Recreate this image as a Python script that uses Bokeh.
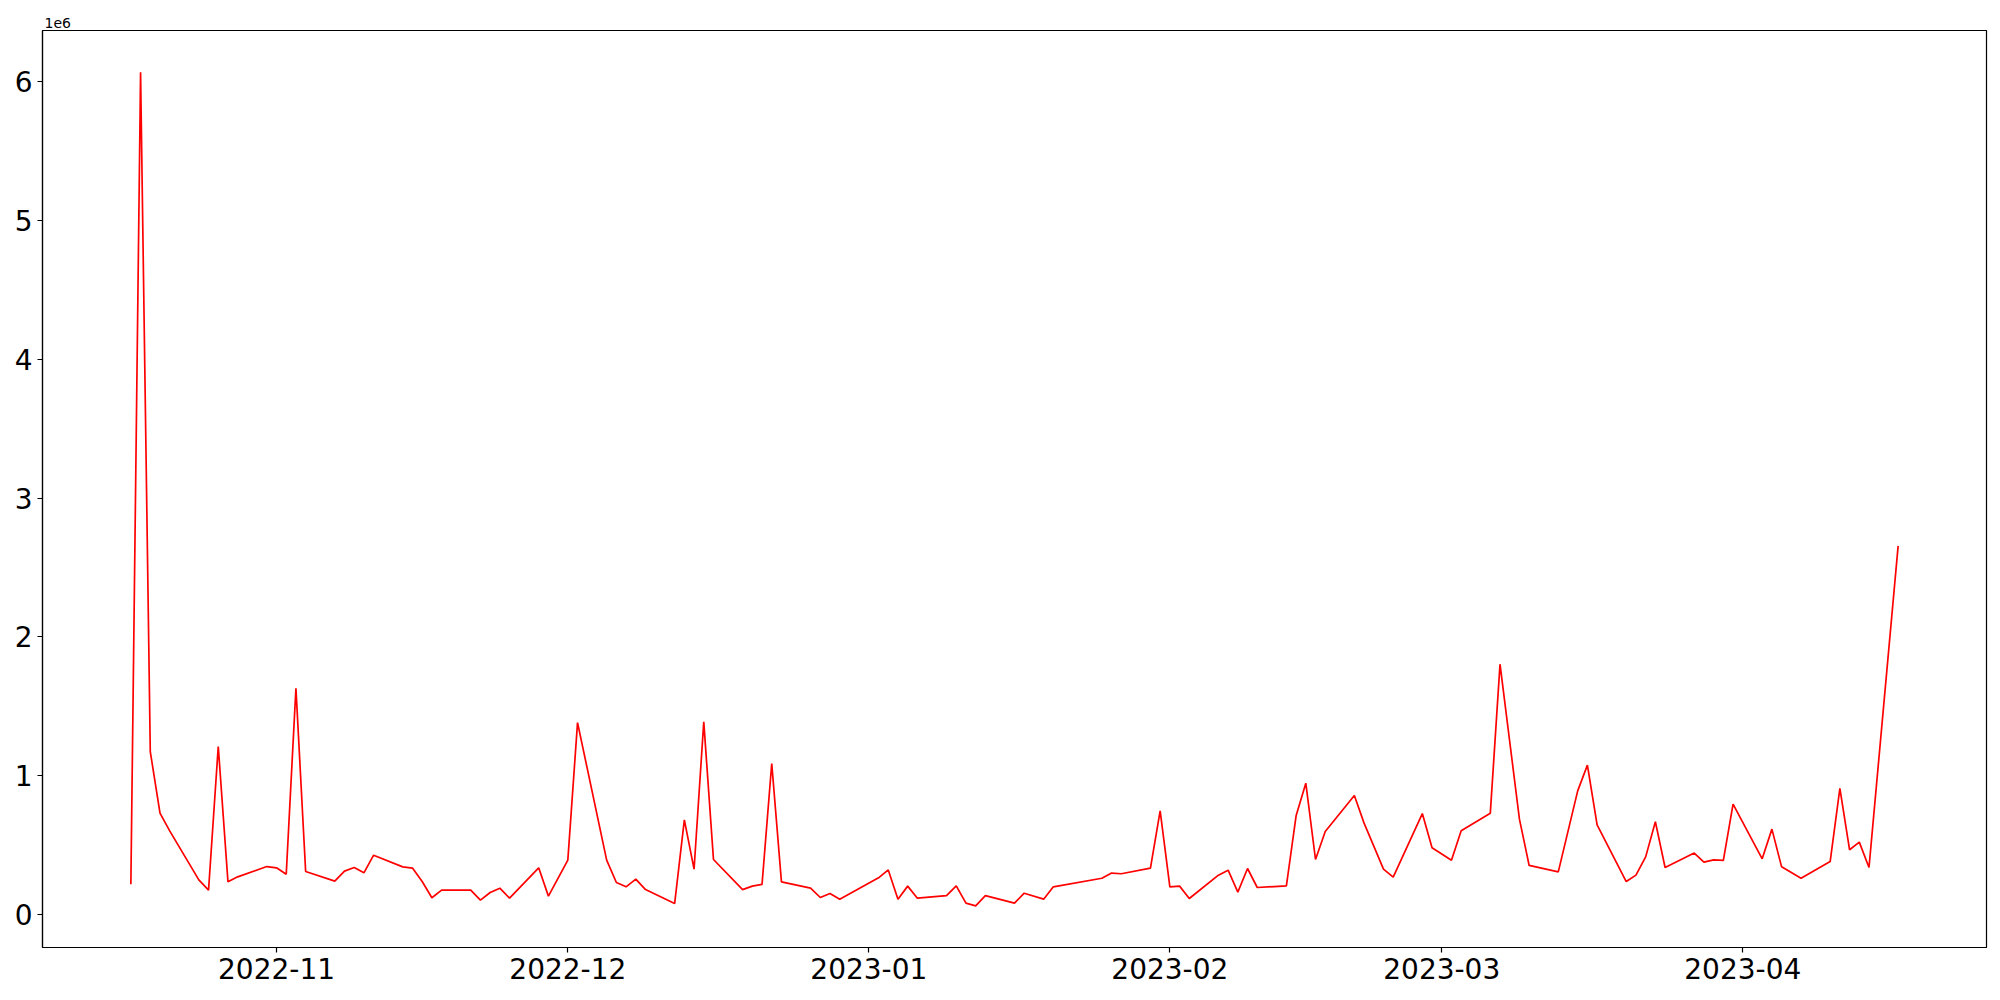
import pandas as pd
from bokeh.plotting import figure
from bokeh.models import Range1d, FixedTicker, DatetimeTickFormatter, ColumnDataSource
from bokeh.embed import file_html
from bokeh.resources import INLINE

dates = [
    "2022-10-17", "2022-10-18", "2022-10-19", "2022-10-20", "2022-10-21",
    "2022-10-24", "2022-10-25", "2022-10-26", "2022-10-27", "2022-10-28",
    "2022-10-31", "2022-11-01", "2022-11-02", "2022-11-03", "2022-11-04",
    "2022-11-07", "2022-11-08", "2022-11-09", "2022-11-10", "2022-11-11",
    "2022-11-14", "2022-11-15", "2022-11-16", "2022-11-17", "2022-11-18",
    "2022-11-21", "2022-11-22", "2022-11-23", "2022-11-24", "2022-11-25",
    "2022-11-28", "2022-11-29", "2022-12-01", "2022-12-02",
    "2022-12-05", "2022-12-06", "2022-12-07", "2022-12-08", "2022-12-09",
    "2022-12-12", "2022-12-13", "2022-12-14", "2022-12-15", "2022-12-16",
    "2022-12-19", "2022-12-20", "2022-12-21", "2022-12-22", "2022-12-23",
    "2022-12-26", "2022-12-27", "2022-12-28", "2022-12-29",
    "2023-01-02", "2023-01-03", "2023-01-04", "2023-01-05", "2023-01-06",
    "2023-01-09", "2023-01-10", "2023-01-11", "2023-01-12", "2023-01-13",
    "2023-01-16", "2023-01-17", "2023-01-19", "2023-01-20",
    "2023-01-25", "2023-01-26", "2023-01-27",
    "2023-01-30", "2023-01-31", "2023-02-01", "2023-02-02", "2023-02-03",
    "2023-02-06", "2023-02-07", "2023-02-08", "2023-02-09", "2023-02-10",
    "2023-02-13", "2023-02-14", "2023-02-15", "2023-02-16", "2023-02-17",
    "2023-02-20", "2023-02-21", "2023-02-23", "2023-02-24",
    "2023-02-27", "2023-02-28", "2023-03-02", "2023-03-03",
    "2023-03-06", "2023-03-07", "2023-03-09", "2023-03-10",
    "2023-03-13", "2023-03-15", "2023-03-16", "2023-03-17",
    "2023-03-20", "2023-03-21", "2023-03-22", "2023-03-23", "2023-03-24",
    "2023-03-27", "2023-03-28", "2023-03-29", "2023-03-30", "2023-03-31",
    "2023-04-03", "2023-04-04", "2023-04-05", "2023-04-07",
    "2023-04-10", "2023-04-11", "2023-04-12", "2023-04-13", "2023-04-14",
    "2023-04-17",
]

values_1e6 = [
    0.216, 6.070, 1.172, 0.728, 0.600,
    0.247, 0.173, 1.209, 0.233, 0.269,
    0.343, 0.334, 0.288, 1.629, 0.307,
    0.238, 0.310, 0.336, 0.298, 0.425,
    0.341, 0.332, 0.235, 0.118, 0.173,
    0.173, 0.101, 0.156, 0.187, 0.115,
    0.334, 0.130, 0.389, 1.381,
    0.389, 0.228, 0.197, 0.252, 0.177,
    0.076, 0.680, 0.324, 1.386, 0.394,
    0.177, 0.202, 0.214, 1.086, 0.233,
    0.187, 0.120, 0.149, 0.108,
    0.262, 0.319, 0.108, 0.202, 0.115,
    0.134, 0.204, 0.079, 0.060, 0.134,
    0.079, 0.151, 0.108, 0.197,
    0.259, 0.296, 0.291,
    0.332, 0.745, 0.197, 0.202, 0.113,
    0.281, 0.317, 0.159, 0.329, 0.192,
    0.204, 0.709, 0.944, 0.394, 0.596,
    0.855, 0.656, 0.324, 0.267,
    0.725, 0.478, 0.389, 0.601,
    0.728, 1.802, 0.685, 0.351,
    0.305, 0.889, 1.074, 0.644,
    0.235, 0.281, 0.413, 0.666, 0.336,
    0.440, 0.375, 0.391, 0.387, 0.793,
    0.399, 0.613, 0.341, 0.259,
    0.379, 0.906, 0.464, 0.519, 0.336,
    2.655,
]

month_ticks = ["2022-11-01", "2022-12-01", "2023-01-01", "2023-02-01", "2023-03-01", "2023-04-01"]
y_ticks = [0, 1, 2, 3, 4, 5, 6]
offset_text = "1e6"

x = pd.to_datetime(dates)
src = ColumnDataSource(data=dict(x=x, y=values_1e6))

xmin, xmax = x.min(), x.max()
xpad = (xmax - xmin) * 0.05
ymin, ymax = min(values_1e6), max(values_1e6)
ypad = (ymax - ymin) * 0.05

p = figure(
    width=1992, height=992,
    x_axis_type="datetime",
    x_range=Range1d(xmin - xpad, xmax + xpad),
    y_range=Range1d(ymin - ypad, ymax + ypad),
    output_backend="svg", toolbar_location=None,
    min_border_left=42, min_border_right=6, min_border_top=30, min_border_bottom=45,
)

p.title.text = offset_text
p.title.align = "left"
p.title.text_font = "DejaVu Sans"
p.title.text_font_size = "14px"
p.title.text_font_style = "normal"
p.title.text_color = "black"
p.title.offset = 2
p.title.standoff = 5

p.line("x", "y", source=src, line_color="red", line_width=1.7)

p.xgrid.visible = False
p.ygrid.visible = False
p.outline_line_color = "black"
p.outline_line_width = 1.2
p.outline_line_alpha = 1.0

tick_ms = [pd.Timestamp(t).value / 1e6 for t in month_ticks]
p.xaxis.ticker = FixedTicker(ticks=tick_ms)
fmt = "%Y-%m"
p.xaxis.formatter = DatetimeTickFormatter(
    microseconds=fmt, milliseconds=fmt, seconds=fmt, minsec=fmt, minutes=fmt,
    hourmin=fmt, hours=fmt, days=fmt, months=fmt, years=fmt,
)
p.yaxis.ticker = FixedTicker(ticks=y_ticks)

for ax in (p.xaxis[0], p.yaxis[0]):
    ax.axis_line_color = "black"
    ax.axis_line_width = 1.2
    ax.major_tick_line_color = "black"
    ax.major_tick_line_width = 1.2
    ax.major_tick_out = 5
    ax.major_tick_in = 0
    ax.minor_tick_line_color = None
    ax.major_label_text_font = "DejaVu Sans"
    ax.major_label_text_font_size = "28px"
    ax.major_label_text_color = "black"
    ax.major_label_standoff = 5

open("out.html", "w").write(file_html(p, INLINE))
